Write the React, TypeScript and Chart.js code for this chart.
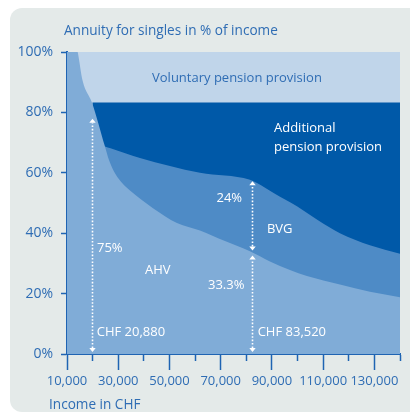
import React, { useEffect, useRef } from 'react';
import { Chart, registerables } from 'chart.js';

Chart.register(...registerables);

// ---- data ----
const ahvX = [10000, 14180, 16130, 19760, 24830, 26390, 28340, 31080, 34590, 43570, 52930, 61910, 71670, 81420, 89230, 97040, 103670, 116550, 128260, 140000];
const ahvY = [113, 100, 90.4, 83.2, 68.7, 64.2, 60.4, 57.0, 54.1, 48.3, 43.4, 40.9, 37.4, 34.0, 30.6, 27.8, 25.8, 23.0, 20.6, 18.8];

const bvgX = [24830, 27000, 38490, 61910, 81420, 84160, 90500, 99770, 108000, 116550, 128260, 140000];
const bvgY = [68.7, 68.1, 64.9, 60.0, 57.7, 56.6, 53.4, 48.9, 44.3, 40.0, 36.0, 33.2];

const additionalX = [19870, 140000];
const additionalY = [83.3, 83.3];

const voluntaryX = [10000, 140000];
const voluntaryY = [100, 100];

const yTickValues = [0, 20, 40, 60, 80, 100];
const yTickLabels = ['0%', '20%', '40%', '60%', '80%', '100%'];
const xTickValues = [10000, 30000, 50000, 70000, 90000, 110000, 130000];
const xTickLabels = ['10,000', '30,000', '50,000', '70,000', '90,000', '110,000', '130,000'];

const chartTitle = 'Annuity for singles in % of income';
const xAxisTitle = 'Income in CHF';

const noteTexts = ['Voluntary pension provision', 'Additional', 'pension provision', '24%', 'BVG', '75%', 'AHV', '33.3%', 'CHF 20,880', 'CHF 83,520'];
const noteX = [76350, 90800, 90800, 68350, 88060, 21700, 40440, 65030, 21590, 84430];
const noteY = [91.2, 74.9, 68.6, 51.4, 41.2, 34.9, 27.6, 22.9, 7.1, 7.1];
const noteAlign: CanvasTextAlign[] = ['center', 'left', 'left', 'left', 'left', 'left', 'left', 'left', 'left', 'left'];
const noteDark = [true, false, false, false, false, false, false, false, false, false];

const arrowX = [19700, 82200, 82200];
const arrowFrom = [0, 34.3, 0];
const arrowTo = [77.9, 57.2, 32.6];

// ---- style ----
const FONT = "'Open Sans', 'Noto Sans', sans-serif";
const BLUE_TEXT = '#2f6db4';
const AXIS_BLUE = '#1f64b3';
const C_VOLUNTARY = '#c0d5ea';
const C_ADDITIONAL = '#0059a8';
const C_BVG = '#4e8bc6';
const C_AHV = '#80acd7';

const zip = (xs: number[], ys: number[]) => xs.map((x, i) => ({ x, y: ys[i] }));

const overlayPlugin = {
  id: 'overlay',
  afterDatasetsDraw(chart: any) {
    const ctx: CanvasRenderingContext2D = chart.ctx;
    const xs = chart.scales.x;
    const ys = chart.scales.y;
    ctx.save();
    ctx.strokeStyle = '#ffffff';
    ctx.fillStyle = '#ffffff';
    for (let i = 0; i < arrowX.length; i++) {
      const px = Math.round(xs.getPixelForValue(arrowX[i])) + 0.5;
      let yBottom = ys.getPixelForValue(arrowFrom[i]);
      if (arrowFrom[i] === 0) yBottom -= 2;
      const yTop = ys.getPixelForValue(arrowTo[i]);
      const hh = 4;
      const hw = 3.2;
      ctx.lineWidth = 1.6;
      ctx.setLineDash([1.6, 1.8]);
      ctx.beginPath();
      ctx.moveTo(px, yBottom - hh);
      ctx.lineTo(px, yTop + hh);
      ctx.stroke();
      ctx.setLineDash([]);
      ctx.beginPath();
      ctx.moveTo(px, yTop);
      ctx.lineTo(px - hw, yTop + hh);
      ctx.lineTo(px + hw, yTop + hh);
      ctx.closePath();
      ctx.fill();
      ctx.beginPath();
      ctx.moveTo(px, yBottom);
      ctx.lineTo(px - hw, yBottom - hh);
      ctx.lineTo(px + hw, yBottom - hh);
      ctx.closePath();
      ctx.fill();
    }
    ctx.font = `13px ${FONT}`;
    ctx.textBaseline = 'middle';
    for (let i = 0; i < noteTexts.length; i++) {
      ctx.textAlign = noteAlign[i];
      ctx.fillStyle = noteDark[i] ? BLUE_TEXT : '#ffffff';
      ctx.fillText(noteTexts[i], xs.getPixelForValue(noteX[i]), ys.getPixelForValue(noteY[i]));
    }
    ctx.restore();
  },
  afterDraw(chart: any) {
    const ctx: CanvasRenderingContext2D = chart.ctx;
    const area = chart.chartArea;
    ctx.save();
    ctx.font = `13.6px ${FONT}`;
    ctx.fillStyle = BLUE_TEXT;
    ctx.textAlign = 'left';
    ctx.textBaseline = 'alphabetic';
    ctx.fillText(chartTitle, area.left - 3, area.top - 17);
    ctx.fillText(xAxisTitle, area.left - 18, area.bottom + 55);
    ctx.restore();
  },
};

export default function App() {
  const ref = useRef<HTMLCanvasElement | null>(null);
  useEffect(() => {
    if (!ref.current) return;
    const chart = new Chart(ref.current, {
      type: 'line',
      data: {
        datasets: [
          { label: 'Voluntary pension provision', data: zip(voluntaryX, voluntaryY), backgroundColor: C_VOLUNTARY, borderWidth: 0, pointRadius: 0, fill: 'origin', order: 4 },
          { label: 'Additional pension provision', data: zip(additionalX, additionalY), backgroundColor: C_ADDITIONAL, borderWidth: 0, pointRadius: 0, fill: 'origin', order: 3 },
          { label: 'BVG', data: zip(bvgX, bvgY), backgroundColor: C_BVG, borderWidth: 0, pointRadius: 0, fill: 'origin', order: 2, cubicInterpolationMode: 'monotone' },
          { label: 'AHV', data: zip(ahvX, ahvY), backgroundColor: C_AHV, borderWidth: 0, pointRadius: 0, fill: 'origin', order: 1, cubicInterpolationMode: 'monotone' },
        ],
      } as any,
      options: {
        responsive: false,
        animation: false,
        layout: { padding: { left: 0, right: 10, top: 52, bottom: 0 } },
        plugins: { legend: { display: false }, tooltip: { enabled: false } },
        scales: {
          x: {
            type: 'linear',
            min: 10000,
            max: 140000,
            afterFit: (s: any) => { s.height = 62; },
            ticks: {
              stepSize: 10000,
              autoSkip: false,
              maxRotation: 0,
              padding: 3,
              color: BLUE_TEXT,
              font: { family: FONT, size: 13 },
              callback: (v: any) => {
                const i = xTickValues.indexOf(Number(v));
                return i >= 0 ? xTickLabels[i] : '';
              },
            },
            grid: {
              drawOnChartArea: false,
              tickLength: 16,
              tickWidth: 1.5,
              tickColor: AXIS_BLUE,
              tickBorderDash: (c: any) => (c.tick && c.tick.label === '' ? [6, 40] : []),
            },
            border: { color: AXIS_BLUE, width: 2 },
          },
          y: {
            min: 0,
            max: 100,
            afterFit: (s: any) => { s.width = 67; },
            ticks: {
              stepSize: 20,
              padding: 8,
              color: BLUE_TEXT,
              font: { family: FONT, size: 14 },
              callback: (v: any) => {
                const i = yTickValues.indexOf(Number(v));
                return i >= 0 ? yTickLabels[i] : '';
              },
            },
            grid: { drawOnChartArea: false, tickLength: 6, tickWidth: 1.5, tickColor: AXIS_BLUE },
            border: { color: AXIS_BLUE, width: 2 },
          },
        },
      } as any,
      plugins: [overlayPlugin],
    });
    return () => chart.destroy();
  }, []);

  return (
    <div style={{ position: 'fixed', left: 0, top: 0, width: 410, height: 416, overflow: 'hidden', background: '#ffffff' }}>
      <div style={{ position: 'absolute', left: 10, top: 8, width: 412, height: 404, borderRadius: 12, background: '#e4eae9' }} />
      <canvas ref={ref} width={410} height={416} style={{ position: 'absolute', left: 0, top: 0, width: 410, height: 416 }} />
    </div>
  );
}
